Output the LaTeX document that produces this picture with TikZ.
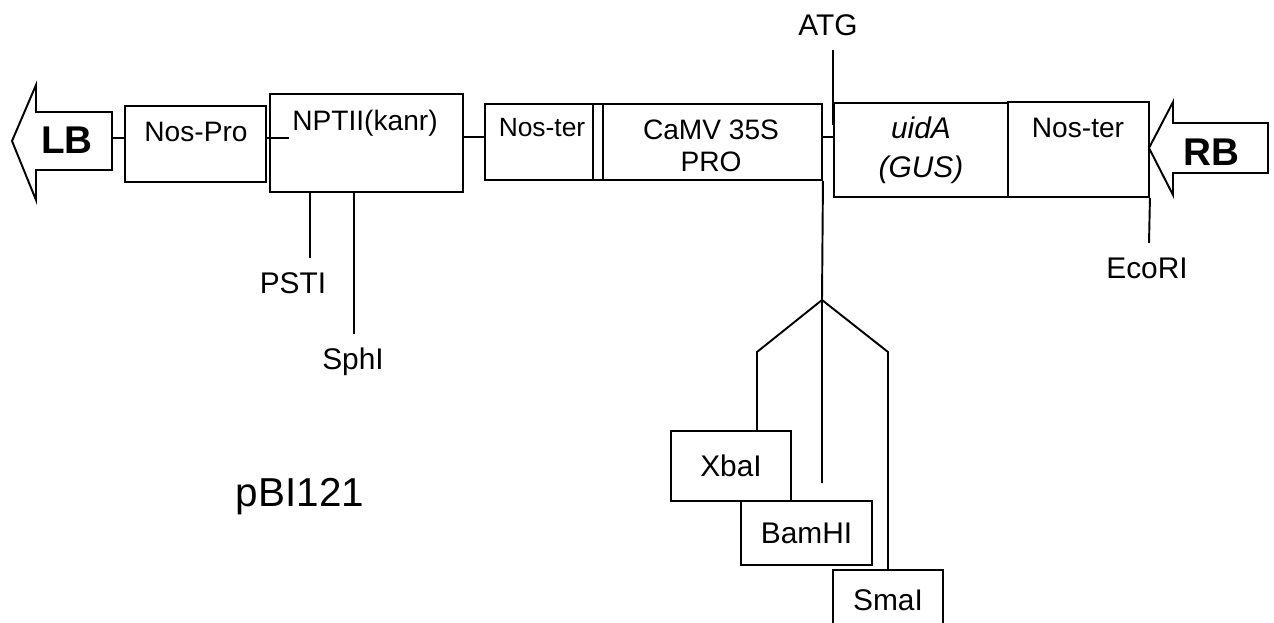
\documentclass[tikz,border=0pt]{standalone}
\usepackage{fontspec}
\setmainfont{Liberation Sans}
\begin{document}
\begin{tikzpicture}[
        x=0.2mm, y=-0.2mm,
        line width=1.1pt,
        every node/.style={font=\fontsize{16}{19}\selectfont},
        box/.style={draw, rectangle, inner sep=0pt},
        site/.style={font=\fontsize{17}{20}\selectfont},
        border/.style={font=\bfseries\fontsize{22}{26}\selectfont}
    ]

        \useasboundingbox (0,0) rectangle (1274,623);
        \clip (0,0) rectangle (1274,623);

        %--------------------------------
        % T-DNA borders
        %--------------------------------
        \draw (12,141) -- (36,85) -- (36,112) -- (112,112) -- (112,170)
            -- (36,170) -- (36,200) -- cycle;
        \node[border] (lb) at (67,140) {LB};
        \coordinate (lbend) at (112,138);

        \draw (1149,148) -- (1173,102) -- (1173,123) -- (1268,123) -- (1268,173)
            -- (1173,173) -- (1173,195) -- cycle;
        \node[border] (rb) at (1211,152) {RB};

        %--------------------------------
        % cassette
        %--------------------------------
        \node[box, minimum width=28.2mm, minimum height=15.2mm] (nospro) at (195.5,144) {};
        \node (nosprotxt) at (196,132) {Nos-Pro};

        \node[box, minimum width=38.6mm, minimum height=19.6mm] (nptii) at (366.5,143) {};
        \node (nptiitxt) at (365,123) {NPTII(kanr)};

        \node[box, minimum width=21.6mm, minimum height=15.2mm] (noster) at (539,142) {};
        \node[font=\fontsize{15}{18}\selectfont] (nostertxt) at (542,128) {Nos-ter};

        \node[box, minimum width=45.8mm, minimum height=15.2mm] (camv) at (707.5,142) {};
        \node[align=center] (camvtxt) at (711,146) {CaMV 35S\\[-1pt]PRO};
        \draw ([xshift=2.2mm]camv.north west) -- ([xshift=2.2mm]camv.south west);

        \node[box, minimum width=34.8mm, minimum height=18.8mm] (uida) at (921,150) {};
        \node[align=center, font=\itshape\fontsize{17}{20}\selectfont] (uidatxt) at (921,150)
            {uidA\\[2pt](GUS)};

        \node[box, minimum width=28.2mm, minimum height=19mm] (noster2) at (1078.5,149.5) {};
        \node (noster2txt) at (1078,128) {Nos-ter};

        \draw (lbend) -- (nospro.west |- lbend);
        \draw (nospro.east |- lbend) -- ++(22,0);
        \draw (nptii.east |- 0,137) -- (noster.west |- 0,137);
        \draw (camv.east |- 0,137) -- (uida.west |- 0,137);

        %--------------------------------
        % sites
        %--------------------------------
        \node[site] (atg) at (828,25) {ATG};
        \coordinate (atgend) at (833,125);
        \draw (atgend |- 0,50) -- (atgend);

        \node[site] (pst) at (293,283) {PSTI};
        \coordinate (pstcut) at (310,258);
        \draw (nptii.south -| pstcut) -- (pstcut);

        \node[site] (sph) at (353,362) {SphI};
        \coordinate (sphcut) at (354,334);
        \draw (nptii.south -| sphcut) -- (sphcut);

        \node[site] (eco) at (1147,268) {EcoRI};
        \coordinate (ecocut) at (1149,243);
        \draw (noster2.south east) -- (ecocut);

        %--------------------------------
        % polylinker
        %--------------------------------
        \node[box, site, minimum width=24mm, minimum height=14mm] (xba) at (731,466) {XbaI};
        \node[box, site, minimum width=26.2mm, minimum height=12.8mm] (bam) at (806.5,533) {BamHI};
        \node[box, site, minimum width=22mm, minimum height=12mm] (sma) at (888,600) {SmaI};

        \coordinate (branch) at (822,300);
        \coordinate (midcut) at (822,483);
        \draw (camv.south east) -- (branch) -- (midcut);
        \draw (branch) -- (757,352) -- (xba.north -| 757,0);
        \draw (branch) -- (888,352) -- (sma.north);

        \node[font=\fontsize{23}{27}\selectfont] (pbi) at (300,497) {pBI121};

    \end{tikzpicture}
\end{document}
